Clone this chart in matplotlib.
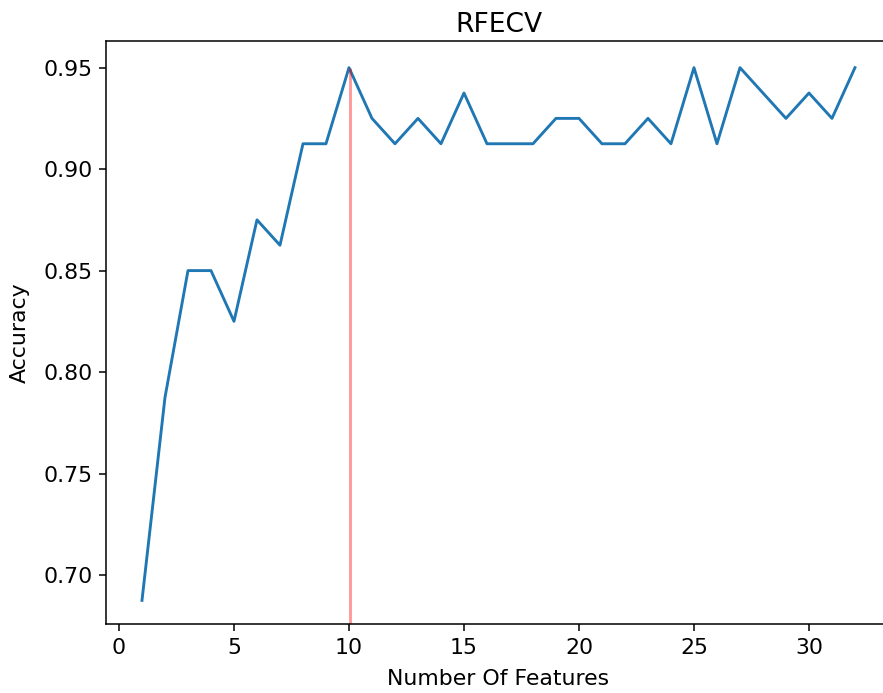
import matplotlib
matplotlib.use('Agg')
import matplotlib.pyplot as plt

# Número de features e acurácia média da validação cruzada
n_features = list(range(1, 33))
accuracy = [0.6875, 0.7875, 0.85, 0.85, 0.825, 0.875, 0.8625, 0.9125,
            0.9125, 0.95, 0.925, 0.9125, 0.925, 0.9125, 0.9375, 0.9125,
            0.9125, 0.9125, 0.925, 0.925, 0.9125, 0.9125, 0.925, 0.9125,
            0.95, 0.9125, 0.95, 0.9375, 0.925, 0.9375, 0.925, 0.95]
best_n = 10
best_acc = 0.95

plt.rcParams['font.size'] = 11.5

fig = plt.figure(figsize=(6.4, 5.022), dpi=138)
# eixo cortado à direita como na imagem original
ax = fig.add_axes([0.1204, 0.0991, 0.888, 0.8413])

ax.plot(n_features, accuracy, color='#1f77b4')
ax.set_xlim(-0.55, 33.55)
ax.set_ylim(0.6757, 0.963)
ax.vlines(best_n + 0.05, 0.6757, best_acc, color='red', alpha=0.4)
ax.spines['right'].set_visible(False)

ax.set_title('RFECV', pad=5)
ax.set_xlabel('Number Of Features', labelpad=6)
ax.set_ylabel('Accuracy', labelpad=7)

fig.savefig('out.png', dpi=138)
